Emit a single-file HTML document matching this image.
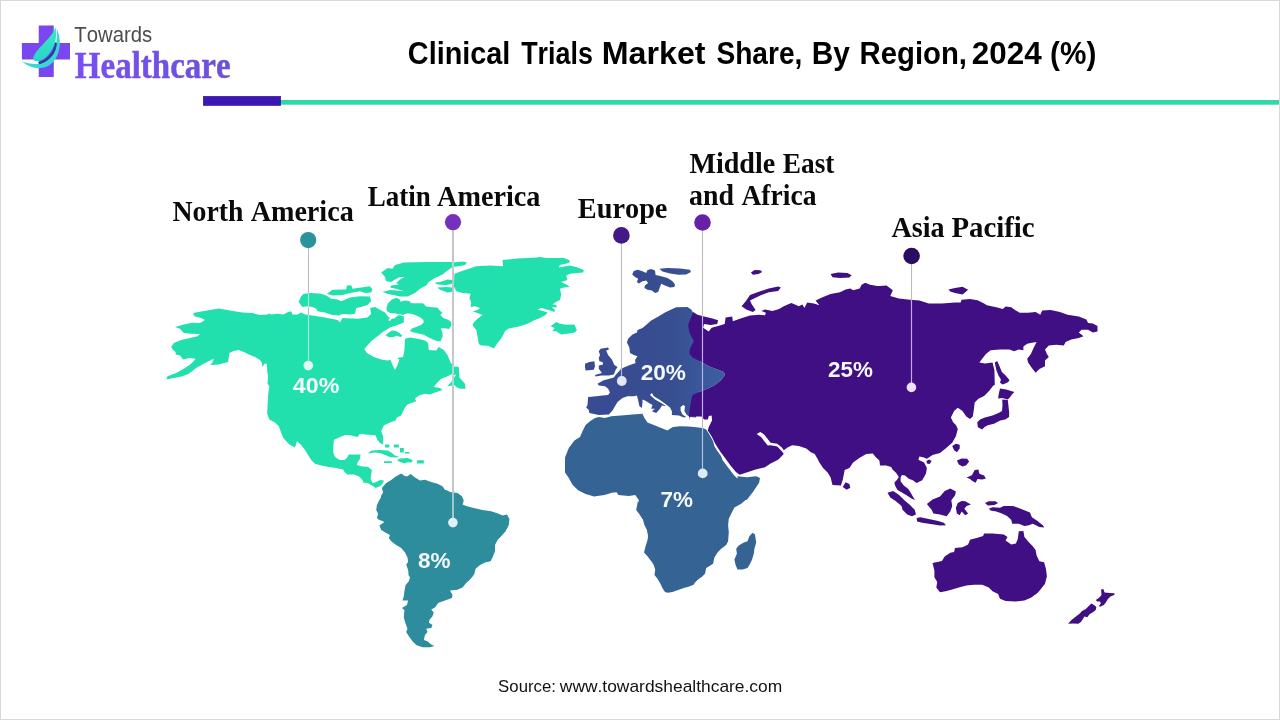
<!DOCTYPE html>
<html><head><meta charset="utf-8">
<style>
html,body{margin:0;padding:0;background:#fff;}
body{width:1280px;height:720px;position:relative;overflow:hidden;font-family:"Liberation Sans",sans-serif;}
#frame{position:absolute;left:0;top:0;width:1278px;height:718px;border:1px solid #d8d8d8;}
svg{position:absolute;left:0;top:0;}
</style></head><body>
<div id="frame"></div>
<svg style="will-change:transform" width="1280" height="720" viewBox="0 0 1280 720">
<defs>
<linearGradient id="hg" x1="0" y1="0" x2="1" y2="0"><stop offset="0" stop-color="#7a4ff2"/><stop offset="1" stop-color="#6b52d6"/></linearGradient>
<linearGradient id="eug" gradientUnits="userSpaceOnUse" x1="585" y1="0" x2="725" y2="0"><stop offset="0" stop-color="#394a93"/><stop offset="0.6" stop-color="#374e90"/><stop offset="1" stop-color="#3c5fa2"/></linearGradient>
<linearGradient id="lg" x1="0" y1="0" x2="0" y2="1"><stop offset="0" stop-color="#36ecc0"/><stop offset="1" stop-color="#2bd3cb"/></linearGradient>
</defs>
<!-- header bars -->
<rect x="280" y="100" width="999" height="4.7" fill="#30d8a9"/>
<rect x="203.3" y="96.3" width="77.4" height="9.2" fill="#3b18b6" stroke="#2d1496" stroke-width="0.6"/>
<!-- logo -->
<g id="logo">
<path d="M38.75 25.6H53.75V43.1H70V59.4H53.75V76.9H38.75V59.4H21.9V43.1H38.75Z" fill="#7946ef"/>
<g transform="translate(15,15) scale(0.125)">
<path d="M336,112 C374,205 364,305 308,372 C255,436 148,452 56,370 C138,404 215,398 268,354 C318,308 340,230 336,112Z" fill="#3ad8d4"/>
<path d="M322,215 C315,290 265,350 185,380 L197,394 C282,366 332,300 335,225Z" fill="#2b3c9e"/>
<path d="M325,95 C300,160 240,215 190,270 C160,305 138,340 148,360 C170,380 212,370 242,342 C302,290 345,200 325,95Z" fill="url(#lg)"/>
</g>
</g>
<path fill="#22e0ae" d="M193.1 313.1 202.5 311.2 218.8 308.5 230 310.6 242.5 312.5 252.5 313.1 260 315 267.5 314.4 268.8 313.5 271.2 314.4 277.5 313.8 283.8 314.4 287.5 312.2 291.2 311.2 292.5 314.4 297.5 314.4 301.2 312.5 305 314.4 308.8 315 325 317.5 337.5 320 340 322.5 342.5 318 357.5 318.8 367.5 317.5 371.2 313.8 370 308 375 307 385 312.5 388.8 317.5 393.8 318.8 398.8 315 403.8 316.2 403.8 322.5 397.5 325 390 327.5 383.8 331.2 377.5 336.2 371.2 341.2 364.5 348.8 363.8 348.1 366.9 353.1 373.8 356.9 381.2 359.4 387.5 360.6 390.6 360 392.5 365 395 370 397.5 365 399.4 359.4 396.9 358.1 403.1 356.9 404.4 350 405 338.8 410 337.5 417.5 338.8 425 340.6 428.1 343.1 428.8 350 436.2 350.6 438.8 346.9 443.8 350 447.5 355 450 361.2 452.5 365 452.5 373.8 447.5 376.2 441.2 378.8 436.2 383.8 433.8 386.9 440 388.1 442.5 390 435 392.5 430 394.4 425 393.8 418.8 395.6 415 398.8 416.2 401.2 412.5 402.5 407.5 404.4 405 407.5 402.5 412.5 401.2 415.6 396.9 417.5 395.6 420.6 390 422.5 383.8 425.6 381.2 431.2 383.1 436.2 383.1 444.4 380 443.1 377.5 440 375.6 435.6 371.2 435 365 434.4 360 433.8 357.5 436.9 351.2 435.6 345 435 338.8 437.5 333.8 440 333.1 451.2 334 455 336.2 458.1 340 460 344.4 460 346.9 458.1 348.8 454.4 360.6 454.4 360 458.8 357.5 462.5 356.9 465 361.2 466.2 368.1 466.9 371.9 470 371.2 474.4 370.6 478.8 372.5 483.1 375 482.5 380 480 383.8 480.6 383.1 483.1 380 486.2 375.6 488.1 371.9 485.6 367.5 483.1 363.1 482.5 362.5 480 358.8 476.2 353.8 474.4 347.5 474.4 345 472.5 343.1 469.4 336.2 468.1 328.8 466.9 321.2 465.6 315 463.8 311.2 460 308.1 455 305 450 301.2 445 296.9 441.2 295 447.5 290 445 286.2 441.2 283.1 437.5 280.6 431.2 278.8 426.2 275 422.5 269.4 419.4 267.2 413.8 267.5 406.2 268.1 395 269.4 386.2 267.5 383.8 268.1 376.2 266.9 370 267.2 371.2 266.9 363.8 264.4 363.8 262.5 367.2 261.9 363.1 260 360 255 356.9 250 355 245 352.5 238.8 350 233.8 351 229.4 353.1 228.1 361.9 218.8 364.4 210 365 212.5 362.5 213.8 358.8 210 360.6 203.8 363.8 196.2 368.1 188.8 373.8 182.5 376.2 173.8 378.1 166.2 379.4 167.5 376.2 176.2 373.1 185 368.1 191.2 363.8 195.6 358.8 189.4 358.1 183.1 359.4 180 355.6 175.6 354.4 175.6 351.9 173.1 350 171.2 346.9 173.8 343.1 181.2 340 190 338.1 197.5 336.2 200 334 191.2 333.8 183.8 333.1 180 328.8 175 326.9 183.8 324.4 192.5 322.8 200 323.1 205 320 201.2 318.1 194.4 316.2ZM298.5 301.9 301.2 296.2 303.8 293.8 311.2 293.1 321.2 293.8 326.2 295.6 331.2 298.8 337.5 299.4 341.2 301.2 350 297.5 360 296.2 370 296.5 371.2 301.2 367.5 305 361.2 306.9 356.2 308.1 355 313.8 350 314.4 342.5 314 338.8 315.6 332.5 315 325 312.5 317.5 311.2 316.2 308.8 312.5 306.9 307.5 306.2 302.5 306.9ZM326.9 293.8 332.5 289.8 346.2 289.4 346.9 285.6 351.2 285.2 352.5 288.8 361.2 287.5 370 286.2 372.5 289.4 371.2 292.5 365 293.1 360 291.2 350 293.1 342.5 295 332.5 295.6ZM381.2 272.5 387.5 268.1 392.5 268.8 395 265 403.8 262.5 425 261.9 452.5 261.9 452.5 262.5 462.5 261.5 466.9 262.5 465 265 458.8 266.2 452.5 266.9 447.5 270.6 442.5 274.4 435 278.1 428.8 281.9 426.2 285.6 420 288.8 415 293.1 407.5 296.5 400 296.5 387.5 293.8 382.5 291.9 390 290 403.8 291.2 396.2 288.8 390 287.5 391.2 285.6 398.8 284.4 396.2 283.1 400 279.4 404.4 276.9 400 276.9 395 279.4 391.2 281.9 386.2 281.2 385 276.9ZM435 282.8 440 281.9 447.5 279.4 452.5 280 452.5 283.8 446.2 285 440 284.8 436.2 284ZM437.5 287.5 446.2 286.9 452.5 287.5 451.9 291.9 447.5 292.5 440 289.8ZM386.4 308 388 303.3 391.9 299.4 396.6 297.8 399.7 299.4 400.5 301.7 404.4 300.5 409.1 300.9 411.4 303.3 416.9 303.3 423.1 303.3 426.2 306.4 431.7 307.2 437.2 307.6 439.5 310.3 442.3 312.7 440.3 315 443.4 318.1 448.1 319.7 451.2 322 451.6 325.2 448.9 329.1 445 328.3 440.7 328.3 442.3 332.2 442.7 336.1 440.7 341.2 437.2 341.2 432.5 339.2 427.8 336.9 423.1 334.5 418.4 333.4 413.8 332.6 409.8 331 412.2 328.3 416.9 326.7 421.6 324.4 423.9 322 423.1 319.7 420 317.3 416.1 315.4 411.4 313.8 408.3 313.4 405.2 313.8 403.6 315 395.8 313.4 390.3 313 386.8 311.1ZM385.6 335.3 388.8 332.6 391.9 330.6 395.8 331 398.9 332.6 402.4 335.7 400.5 336.9 396.6 335.7 392.7 337.3 388.8 337.3ZM454.4 273.8 465 270 476.2 266.2 490 265.6 503.1 266.2 502.5 260 517.5 258.5 536.2 257.5 540 256.9 546.2 258.1 563.8 258.1 570 260.6 568.8 263.1 560 265 558.8 267.5 570 265.6 576.2 266.9 583.8 270 583.1 272.5 577.5 273.1 570 273.8 566.2 275.6 567.5 280 561.2 281.9 566.2 284.4 570 286.9 563.8 287.5 560 288.8 561.2 294.4 560 300 555 302.5 552.5 304.4 556.2 305 556.9 307.5 551.9 306.9 555 310 554.4 311.9 548.8 310 541.2 308.1 537.5 309.4 543.8 311.2 547.5 312.5 545.6 315 540 318.1 533.8 320.6 527.5 323.8 520 326.2 513.8 327.5 508.1 328.8 505 331.2 502.5 336.2 500 340 497.5 343.1 493.8 348.4 488 345.8 481 345.5 478.8 344 477.5 336.2 476.2 330 472.5 325 473.8 322.5 477.5 318.8 482.5 315 477.5 313.1 472.5 311.2 477.5 310 480 308.1 475 306.2 470.6 306.9 471.2 302.5 469.4 298.1 470.6 293.8 462.5 293.1 456.2 291.2 453.8 286.2ZM550.6 326.2 556.2 321.9 560 323.8 566.2 324.8 574.4 324.4 576.9 330 575 332.5 568.8 333.5 561.2 334.4 556.2 331.2 552.5 331.2 554.4 328.1ZM451.9 366.2 458.8 366.9 459.4 377.5 465 383.8 465.6 388.8 460 388.8 456.2 386.9 454.4 385 452.5 385.6 447.5 386.2 451.2 381.9 455 376.2 456.2 374.4 453.1 375.6 451.9 372.5ZM368.5 452.5 371.9 450.6 380 450 387.5 450.6 391.2 452.5 395 455.6 399.4 456.9 395 457.5 390 456.9 385 455 380 453.1 373.8 452.5 368.5 453.5ZM385 444.4 389.4 444.4 389.4 447.5 385 447.5ZM393.8 444.4 398.8 444.4 398.8 447.5 393.8 447.5ZM400 448.1 403.8 448.1 403.8 452.5 400 452.5ZM405 451.9 409.4 451.9 409.4 453.5 405 453.5ZM384 461.2 391.9 461.2 391.9 463.1 384 463.1ZM417.1 460.2 423.8 460.2 423.8 463.5 417.1 463.5ZM396.9 460 400 458.5 407.5 458.1 412.5 460 411.9 462.2 406.2 462.5 404.4 463.5 400 461.9Z"/>
<path fill="#ffffff" d="M393.4 314.5 395.2 315.4 389.7 321 388 320.1Z"/>
<path fill="#2d8d9d" d="M381.9 488.1 386.2 483.1 391.2 480 395 476.9 401.2 473.5 405 476.2 407.5 476.2 410.6 474 415 477.5 420 480.6 425 479.8 431.2 481.9 437.5 483.8 442.5 486.2 445 490 446.2 490 450 491.9 457.5 493.1 461.9 496.2 463.8 500.6 462.5 504.4 466.2 506 473.8 508.1 482.5 510 491.2 511.2 498.8 513.8 502.5 515.6 506.9 514.4 509.4 518.8 508.8 525 505.6 531.2 501.2 536.2 497.5 540 495 545 495 551.2 492.5 557.5 490.6 561.2 485 562.5 480 565 475.6 568.8 474.4 573.8 471.2 578.8 473.8 575 470 579.4 466.2 583.1 462.5 587.5 457.5 589.8 450 590.6 452.5 595 451.9 598.1 445 600.6 438.1 603.1 435 607.5 431.2 609.4 433.8 612.5 432.5 616.2 429.4 620 428.8 622.5 432.5 625 431.2 628.1 426.2 628.8 427.5 631.9 425 635 423.8 640 427.5 641.2 431.2 644.4 434.4 646 430 647.2 422.5 647.2 416.2 645 412.5 641.2 408.8 636.2 406.2 631.9 407.5 628.8 405.6 623.8 403.8 617.5 404.4 610 401.9 608.1 406.9 605 408.1 600.6 402.5 600.6 403.8 596.2 404.4 591.2 405.6 585 408.8 581.2 410 577.5 408.1 573.8 408.8 576.2 408.1 570 406.2 564.4 408.1 561.9 407.5 557.5 405 552.5 401.2 548.1 396.2 545 391.2 541.2 388.8 538.1 390 535 386.2 533.1 381.2 530 379.4 525.6 384.4 521.9 380 520 376.9 518.1 378.1 513.8 376.2 510 376.9 505 379.4 500 383.1 493.8 380 520.6 377.5 518.8 378.1 513.8 376.2 510 376.9 505.6 380 501.2 381.2 495.6 383.1 492.5Z"/>
<path fill="url(#eug)" d="M632.2 274.4 633.8 271 637.5 269.8 642.5 271.2 646.2 273.1 647.5 270 651.2 269 655 270.6 655.6 275 661.2 276.2 667.5 278.1 672.5 281.2 675 284.4 674.4 286.9 670 287.5 665 285.6 661.2 283.8 660 286.9 658.1 291.9 655 292.9 651.9 290.6 647.5 289.8 644.4 288.1 645 285.6 648.1 283.1 646.2 280.6 642.5 281.2 638.8 283.5 636.9 281.9 638.1 278.8 635 276.9ZM659.4 268.8 667.5 268.1 680 268.5 690 269.8 691 271.9 686.2 274.4 678.8 274.8 670 273.5 662.5 271.5ZM598.8 351.2 600.6 348.8 608.1 347.5 609 349.4 606.2 350.6 608.1 355 611.9 359.4 614.4 365 617.5 366.9 615.6 370 613.8 374.4 608.8 375.6 601.2 375.6 595.6 376.5 595 375 601.9 373.1 598.8 368.8 598.8 365.6 603.1 364.4 602.5 361.9 599.4 361.2 598.8 358.1 600 355ZM585 363.8 589.4 361.9 594.4 361.2 595 366.2 593.8 369.8 585.6 370.6 585 366.9ZM636.9 332.5 637.5 330 642.5 328.1 647.5 323.8 651.2 320.6 657.5 316.9 665 312.5 671.2 309.4 676.2 307.2 687.5 306.9 691.2 309.4 693.1 312.5 700 317.5 700 361.2 708.8 366.2 717.5 369.4 723.8 371.9 725 375 721.2 380 715 385 707.5 388.8 698.8 391.9 696.2 395 696.2 417.5 690 416.9 686.9 415 684.4 411.2 685 406.2 683.1 405 680.6 406.9 680.6 410.6 682.5 414.4 686.2 416.9 683.8 417.5 678.8 415.6 671.9 415 671.9 411.2 670 407.5 666.2 404.4 660 400 653.8 396.2 651.9 393.1 650 395 655 399.4 661.2 403.1 666.2 406.2 661.9 405.6 660 408.8 656.2 413.1 651.9 411.2 655 408.8 651.2 408.8 652.5 405 648.1 402.5 645 400.6 642.5 399.4 642.5 402.5 641.9 408.1 639.4 406.2 638.1 400 636.9 395.6 633.8 396.2 627.5 396.2 622.5 398.1 617.5 401.9 615 406.2 612.5 410.6 608.8 414.4 598.8 415 589.4 413.1 588.8 410 586.2 407.5 587.5 405 588.1 396.9 588.8 396.9 596.2 396.2 602.5 395.6 608.1 395 610 392.5 608.1 388.8 605 386.2 598.8 385.6 597.5 383.8 603.1 380.6 609.4 378.8 613.8 377.5 615.6 375 621.2 368.8 625 366.9 630 365 635.6 363.1 635 360 637.5 356.2 633.8 355 630 353.1 629.4 347.5 626.9 342.5 628.1 338.8 632.5 334.4Z"/>
<path fill="#346394" d="M580 436.9 582.5 431.2 585.6 425 590 421.2 595 418.1 598.8 416.9 605 418.1 611.2 416.2 621.2 415.6 632.5 414.4 642.5 413.8 644.4 418.1 647.5 422.5 653.8 425 660 427.5 667.5 430.6 670 428.8 673.1 426.9 680 426.2 688.8 426.5 696.2 427.2 702.5 428.1 706.2 429.4 710 435.6 713.1 441.2 714.4 446.2 717.5 451.2 721.2 456.2 722.5 460 726.2 465 730 470 733.8 475 737.5 478.8 737.5 476.3 746.9 477.2 756.3 476.3 760 478.1 759.1 482.8 753.5 491.3 746.9 499.7 745.6 500 741.2 503.8 734.4 507.5 731.2 513.8 728.8 518.8 728.1 525 728.8 532.5 728.1 541.2 726.2 545 721.2 548.8 717.5 552.5 714.4 557.5 713.1 563.8 706.2 568.1 705 573.8 701.2 577.5 701.1 577.3 697.8 579.7 695 582.5 693.6 584.8 688.4 586.7 683.7 588.1 678.1 590 672.5 591.9 667.8 592.8 665 591.9 662.7 588.6 660.3 583.4 657.5 578.7 654.5 575 655.2 569.4 653.7 564.7 650.9 560 654.4 567.5 651.2 561.2 647.5 556.2 644 552.5 645.6 546.2 647.5 540 648.1 536.2 646.9 530 644.4 525 643.1 520 640 515 636.2 510 638.1 500 642.8 519.4 639.1 513.8 638.1 508.1 639.1 500.6 635.3 495 628.8 495.9 618.4 495 616.6 492.2 611.9 492.8 604.4 495 594.1 496.5 585.6 494.1 578.1 490.3 572.5 484.7 568.8 478.1 565 472.5 565 457.5 568.8 448.1 574.4 440.6ZM734.4 559.4 736.9 553.8 736.2 548.8 738.8 545.6 743.8 542.5 747.5 541.2 749.4 536.2 752.5 532.8 755 534.4 755.6 538.8 756.2 542.5 754.4 548.8 753.8 553.8 751.9 560 749.4 565 747.5 568.1 742.5 569.4 737.5 569.4 735.6 565Z"/>
<path fill="#3f0f83" d="M693.2 311.9 697.5 314.7 704.1 316.6 712.5 318.4 718.1 320.3 717.2 324.1 710.6 325 704.1 324.1 703.1 327.8 708.8 331.6 711.6 327.8 718.1 325.9 724.7 324.1 725.6 317.5 732.2 316.6 732.8 321.3 740.6 318.4 750 315.6 759.4 314.7 765 315.3 765.9 312.8 761.3 310.9 765 309.6 772.5 310.9 779.1 309.1 783.8 306.3 791.3 302.9 795 304.4 798.8 306.3 802.5 304.4 804.4 308.1 807.2 302.5 813.8 303.4 819.4 305.3 815.6 300.6 823.1 296.9 830.6 294.1 840 292.2 845.6 289.4 850.3 288.4 853.1 290.3 859.7 288.4 861.6 284.7 865.3 282.8 870 284.7 877.5 286 880 286 886.6 285.6 892.8 290.3 890.3 295.9 898.8 298.4 910 299.7 919.4 300.6 928.8 303.4 941.9 303.4 955 302.5 960.6 302.5 961.6 299.7 970 299.1 977.5 300.3 984.1 303.4 986.9 305.3 996.3 307.2 1002.8 309.1 1005.6 306.6 1011.3 307.2 1015 310 1019.7 312.8 1028.1 312.8 1035.6 311.9 1040.3 314.7 1042.2 310.4 1050.6 310 1060 311.9 1067.5 314.7 1078.8 316.6 1086.3 319.4 1088.1 323.1 1092.8 323.5 1097.5 325.9 1097.5 331.6 1092.8 332.5 1088.1 329.7 1081.6 329.7 1078.8 332.5 1083.5 336.3 1078.8 338.1 1071.3 339.6 1065.6 341.9 1063.8 345.6 1056.3 344.7 1048.8 345.6 1045 349.4 1046.9 354.1 1048.8 356.9 1045 360.6 1045 366.3 1039.4 369.1 1035.6 372.8 1031.9 368.1 1028.1 362.5 1027.2 358.8 1030.9 354.1 1033.8 347.5 1036.6 341.9 1031.9 342.8 1027.2 343.8 1023.4 346.6 1023.4 350.3 1018.8 349.4 1014.1 351.3 1009.4 349.4 1000 349.4 990.6 350.3 985.9 354.1 982.2 358.8 979.4 362.5 985 363.4 992.5 362.5 994.4 370 994.8 385 993.4 385.6 988.8 391.3 984.1 395.9 978.4 398.8 974.7 402.5 973.8 410 972.8 416.6 970 419 966.3 416.6 962.5 410.9 957.8 407.8 954.1 410.9 952.2 414.7 950.9 417.5 953.1 422.2 955.9 425 957.8 429.1 955.9 436.3 952.2 442.8 945.6 448.4 940 453.1 932.5 455 926.9 458.8 923.1 457.3 919.4 456.5 918.4 459.7 924.1 462.5 926.9 468.1 925.9 473.8 922.2 480.3 916.6 483.1 912.8 480.3 908.8 478.8 905 475.6 901.9 475 900.6 477.5 900.6 481.2 903.8 485.6 908.1 488.8 910.6 492.5 913.1 496.9 915 500 911.9 498.8 906.9 495.6 901.9 492.5 897.5 490 895 485.6 894.4 482.5 896.9 480 898.8 476.9 896.2 473.1 892.5 469.4 891.2 466.9 886.2 465.6 880 465.6 879.4 460.6 875.6 456.9 872.8 453.5 866.3 454.1 859.7 457.8 853.1 462.5 849.4 468.1 844.7 470 842.8 479.4 840.9 485.4 832.5 485 830.6 477.5 827.8 472.8 823.1 468.1 819.4 462.5 817.5 458.8 814.7 454.1 810.9 452.2 806.3 448.4 798.8 446 792.2 445.3 787.5 447.5 783.8 450.3 781.9 447.5 777.2 443.8 770.6 442.8 766.9 438.1 764.1 434.4 760.3 432.1 756.6 434 761.3 437.2 764.1 440.9 767.8 445.6 770.6 445.3 777.2 446.6 781.9 451.3 783.8 454.1 778.1 459.7 770.6 463.4 765 467.2 755.6 469.6 748.1 471.9 739.7 474.7 735.9 471.9 730.3 465.3 725.6 458.8 720 451.3 715.3 443.8 711.6 436.3 707.8 430.6 708.8 426.9 712.1 420.3 711.6 415.6 708.8 416 707.8 419.4 704.1 419.4 701.3 416.6 690 416.6 690 420 688.8 415 690 407.5 691.2 400 692.5 395 698.8 391.9 707.5 388.8 715 385 721.2 380 725 375 723.8 371.9 717.5 369.4 708.8 366.2 700 361.2 692.5 357.5 689.4 353.8 690 348.8 693.8 341.2 689.4 332.5 688.1 325 690 320 693.1 312.5ZM741.6 306.3 746.3 300.6 750 295 757.5 292.2 768.8 288.4 778.1 286.6 780.9 287.5 778.1 290.9 768.8 292.2 761.3 295 755.6 297.8 750 300.6 751.9 304.4 755.6 310 752.8 311.9 746.3 309.6ZM750.9 272.5 754.7 270.1 760.3 270.3 762.2 272.1 758.4 274 752.8 274.8ZM830.6 274 838.1 272.5 847.5 273.1 851.6 275.3 849.4 277.6 840 278.1 832.5 277.2ZM948.4 289.4 955 287.9 962.5 286.8 968.1 289.8 965.3 292.2 962.5 294.6 955 293.1 950.3 291.6ZM994.8 362.5 997.2 361 999.1 365.3 1001.9 371.9 1005.6 375.6 1009 379.4 1009.4 380.7 1007.5 382.4 1002.8 384.6 1000 382.8 1000.9 379.4 998.5 375.6 996.3 370ZM1000 388.5 1006.2 389.4 1014.4 391.9 1011.9 394.4 1009.4 398.1 1007.5 399.4 1002.5 398.1 998.1 398.5 998.8 393.8ZM1002.2 399.6 1007.8 400 1008.5 406.2 1009.2 412.5 1009.1 416.9 1005.2 419.4 1000.2 420.6 994 423.8 987.8 425.2 984.6 426.9 982.1 429.4 977.9 427.2 977.2 422.5 980 419.4 985 417.5 992.5 415.5 998.5 413.1 1002 411 1002.5 405ZM926.5 461 929.1 459.5 931.6 461 929.7 464 926.9 463.4ZM952.2 446 955.9 443.8 959.7 444.7 959.7 448.4 956.9 452.2 954.1 450.3ZM842.8 486.9 845.6 482.2 849.4 484.1 850.3 487.8 846.6 489.7ZM956.9 460.6 961.6 458.4 967.2 458.8 969.1 461.6 966.3 465.3 962.5 466.6 958.8 464.4ZM966.6 477.5 971.9 475.3 974.7 470 978.4 469.6 979.4 473.8 984.1 475.6 985.9 478.4 982.2 479.4 977.5 479 975.6 482.8 972.8 481.3 970 479ZM887.5 492.8 893.1 490.9 898.8 494.7 904.4 500.3 910 505 914.7 509.7 916 514.4 911.9 516.3 907.2 514.4 902.5 509.7 901.6 505.9 895.9 501.3 890.3 497.5ZM926.9 504.1 932.5 499.4 940 496.6 944.7 490.9 950.3 488.5 955.9 491.5 955 495.6 951.3 500.3 952.2 505.9 950.3 511.6 946.6 516.3 940 514.4 933.4 513.4 931.6 509.7ZM955.9 507.8 957.8 503.1 961.6 500.9 965.3 501.3 970.9 504.6 966.6 505.9 964.4 508.8 968.1 513.4 965.3 515.3 961.6 511.6 959.7 515.3 956.9 513.4ZM916.6 518.1 920.3 517.2 928.8 519.1 938.1 520.9 943.8 522.8 946 525.3 940 525.6 930.6 524.1 922.2 522.8 917.1 521.5ZM985 503.1 988.8 501.3 995.3 501.3 998.1 503.1 994.4 505 987.8 505.4ZM988.8 508.8 992.5 507.3 1000 507.8 1003.8 505.9 1013.1 505.9 1020.6 508.8 1030 512.5 1031.9 517.2 1037.5 520.9 1043.1 525.6 1044.1 527.5 1039.4 527.1 1032.8 523.8 1028.1 525.6 1024.4 526 1018.8 523.8 1012.2 523.8 1011.3 520 1007.5 516.3 1001.9 513.4 996.3 511.6 990.6 510.6ZM932.5 563.1 941.9 560.9 944.7 556.6 950.3 552.8 954.1 551.9 955 548.1 962.5 547.2 968.1 544.4 970 539.7 977.5 537.8 983.1 535.9 984.1 533.5 992.5 533.5 1003.8 534.6 1007.5 536.9 1005.6 540.6 1011.3 544.4 1015.9 543.4 1017.8 539.1 1018.8 531.3 1023.4 530.9 1024.4 536.9 1029.1 542.5 1032.8 546.3 1035.6 550 1036.6 555.6 1039.4 561.3 1044.1 562.2 1045.9 568.8 1046.9 576.3 1045 583.8 1041.3 588.4 1037.5 593.1 1030.9 597.8 1024.4 600.6 1015 601.6 1005.6 601 1000 598.8 998.1 594.1 992.5 591.3 988.8 587.5 982.2 584.7 973.8 584.7 966.3 585.6 958.8 587.5 952.2 589.4 945.6 591.3 940 592.2 936.3 587.5 937.2 581.9 934.4 577.2 934.4 570.6ZM1095.9 600 1099.3 597.4 1101.5 595.1 1101.1 589.5 1103.4 589.1 1104.5 592.5 1109.8 592.9 1114.3 593.3 1114.6 594.8 1110.5 596.6 1107.9 598.9 1106 602.3 1103.8 604.9 1100 606.8 1098.9 606 1100.8 603.4 1100 601.5 1097 601.5ZM1068.1 623.8 1071.5 620 1075.3 617 1079.8 613.5 1082 610.9 1085.8 609 1088.8 606 1091.4 603.4 1094 604.9 1096.3 607.1 1095.9 609.8 1093.3 612 1089.5 614.3 1087.3 617.3 1084.3 616.5 1083.1 618.8 1080.9 621.9 1078.3 623.8 1073 623.4 1068.1 623.8Z"/>
<!-- leader lines -->
<g stroke="#bcbcbc" stroke-width="1.1">
<line x1="308.5" y1="240" x2="308.5" y2="365"/>
<line x1="453" y1="222" x2="453" y2="522" stroke-width="1.5" stroke="#b4b4b4"/>
<line x1="621.5" y1="236" x2="621.5" y2="381"/>
<line x1="702.5" y1="222" x2="702.5" y2="473"/>
<line x1="911.5" y1="256" x2="911.5" y2="387"/>
</g>
<g id="tint">
<line x1="308.5" y1="293" x2="308.5" y2="307" stroke="#a8ecd9" stroke-width="1.1"/>
<line x1="308.5" y1="315" x2="308.5" y2="361" stroke="#a8ecd9" stroke-width="1.1"/>
<line x1="453" y1="262" x2="453" y2="267" stroke="#a8ecd9" stroke-width="1.5"/>
<line x1="453" y1="366" x2="453" y2="376" stroke="#a8ecd9" stroke-width="1.5"/>
<line x1="453" y1="378" x2="453" y2="386" stroke="#a8ecd9" stroke-width="1.5"/>
<line x1="453" y1="491" x2="453" y2="518" stroke="#a6d0d9" stroke-width="1.5"/>
<line x1="621.5" y1="368" x2="621.5" y2="377" stroke="#adb6e2" stroke-width="1.1"/>
<line x1="702.5" y1="316" x2="702.5" y2="363" stroke="#c6a8f0" stroke-width="1.1"/>
<line x1="702.5" y1="363" x2="702.5" y2="390" stroke="#adb6e2" stroke-width="1.1"/>
<line x1="702.5" y1="390" x2="702.5" y2="418" stroke="#c6a8f0" stroke-width="1.1"/>
<line x1="702.5" y1="428" x2="702.5" y2="469" stroke="#abc4e8" stroke-width="1.1"/>
<line x1="911.5" y1="299" x2="911.5" y2="383" stroke="#c6a8f0" stroke-width="1.1"/>
</g>
<g fill="#eef3fa">
<circle cx="308.3" cy="365.6" r="4.8" fill="#e2f8f1"/>
<circle cx="452.9" cy="522.6" r="4.8" fill="#e0f0f4"/>
<circle cx="621.8" cy="381" r="4.9" fill="#e4e8f7"/>
<circle cx="702.7" cy="473.4" r="4.9" fill="#e0eaf6"/>
<circle cx="911.4" cy="387.4" r="4.8" fill="#ece2f8"/>
</g>
<circle cx="308.2" cy="240.1" r="8.1" fill="#2c929b"/>
<circle cx="453" cy="222.2" r="8.1" fill="#7530be"/>
<circle cx="621.4" cy="235.4" r="8.3" fill="#421985"/>
<circle cx="702.5" cy="222.5" r="8.3" fill="#6621a7"/>
<circle cx="911.6" cy="256" r="8.3" fill="#2a0d62"/>
<g id="texts" style="font-kerning:none">
<text x="74.34" y="41.50" font-family="Liberation Sans" font-weight="normal" font-size="22.30" textLength="77.89" lengthAdjust="spacingAndGlyphs" fill="#4d4d4d">Towards</text>
<text x="74.84" y="78.20" font-family="Liberation Serif" font-weight="bold" font-size="38.80" textLength="155.82" lengthAdjust="spacingAndGlyphs" fill="url(#hg)" stroke="url(#hg)" stroke-width="0.5">Healthcare</text>
<text x="407.82" y="63.80" font-family="Liberation Sans" font-weight="bold" font-size="32.20" textLength="102.52" lengthAdjust="spacingAndGlyphs" fill="#000">Clinical</text>
<text x="521.20" y="63.80" font-family="Liberation Sans" font-weight="bold" font-size="32.20" textLength="71.70" lengthAdjust="spacingAndGlyphs" fill="#000">Trials</text>
<text x="601.75" y="63.80" font-family="Liberation Sans" font-weight="bold" font-size="32.20" textLength="103.75" lengthAdjust="spacingAndGlyphs" fill="#000">Market</text>
<text x="716.39" y="63.80" font-family="Liberation Sans" font-weight="bold" font-size="32.20" textLength="85.99" lengthAdjust="spacingAndGlyphs" fill="#000">Share,</text>
<text x="811.70" y="63.80" font-family="Liberation Sans" font-weight="bold" font-size="32.20" textLength="38.16" lengthAdjust="spacingAndGlyphs" fill="#000">By</text>
<text x="859.54" y="63.80" font-family="Liberation Sans" font-weight="bold" font-size="32.20" textLength="107.42" lengthAdjust="spacingAndGlyphs" fill="#000">Region,</text>
<text x="971.81" y="63.80" font-family="Liberation Sans" font-weight="bold" font-size="32.20" textLength="69.86" lengthAdjust="spacingAndGlyphs" fill="#000">2024</text>
<text x="1050.12" y="63.80" font-family="Liberation Sans" font-weight="bold" font-size="32.20" textLength="46.26" lengthAdjust="spacingAndGlyphs" fill="#000">(%)</text>
<text x="172.57" y="220.80" font-family="Liberation Serif" font-weight="bold" font-size="28.90" textLength="70.95" lengthAdjust="spacingAndGlyphs" fill="#0a0a0a">North</text>
<text x="250.63" y="220.80" font-family="Liberation Serif" font-weight="bold" font-size="28.90" textLength="103.10" lengthAdjust="spacingAndGlyphs" fill="#0a0a0a">America</text>
<text x="367.64" y="205.90" font-family="Liberation Serif" font-weight="bold" font-size="28.90" textLength="63.07" lengthAdjust="spacingAndGlyphs" fill="#0a0a0a">Latin</text>
<text x="437.02" y="205.90" font-family="Liberation Serif" font-weight="bold" font-size="28.90" textLength="103.40" lengthAdjust="spacingAndGlyphs" fill="#0a0a0a">America</text>
<text x="577.82" y="217.70" font-family="Liberation Serif" font-weight="bold" font-size="28.90" textLength="89.62" lengthAdjust="spacingAndGlyphs" fill="#0a0a0a">Europe</text>
<text x="689.42" y="172.80" font-family="Liberation Serif" font-weight="bold" font-size="28.90" textLength="85.81" lengthAdjust="spacingAndGlyphs" fill="#0a0a0a">Middle</text>
<text x="782.83" y="172.80" font-family="Liberation Serif" font-weight="bold" font-size="28.90" textLength="51.59" lengthAdjust="spacingAndGlyphs" fill="#0a0a0a">East</text>
<text x="689.00" y="204.50" font-family="Liberation Serif" font-weight="bold" font-size="28.90" textLength="44.91" lengthAdjust="spacingAndGlyphs" fill="#0a0a0a">and</text>
<text x="741.43" y="204.50" font-family="Liberation Serif" font-weight="bold" font-size="28.90" textLength="75.09" lengthAdjust="spacingAndGlyphs" fill="#0a0a0a">Africa</text>
<text x="891.43" y="237.00" font-family="Liberation Serif" font-weight="bold" font-size="28.90" textLength="53.10" lengthAdjust="spacingAndGlyphs" fill="#0a0a0a">Asia</text>
<text x="951.41" y="237.00" font-family="Liberation Serif" font-weight="bold" font-size="28.90" textLength="83.21" lengthAdjust="spacingAndGlyphs" fill="#0a0a0a">Pacific</text>
<text x="292.75" y="392.75" font-family="Liberation Sans" font-weight="bold" font-size="21.50" textLength="46.62" lengthAdjust="spacingAndGlyphs" fill="#f4f8fb">40%</text>
<text x="418.04" y="567.50" font-family="Liberation Sans" font-weight="bold" font-size="21.50" textLength="32.56" lengthAdjust="spacingAndGlyphs" fill="#f4f8fb">8%</text>
<text x="640.72" y="379.75" font-family="Liberation Sans" font-weight="bold" font-size="21.50" textLength="45.28" lengthAdjust="spacingAndGlyphs" fill="#f4f8fb">20%</text>
<text x="660.64" y="506.60" font-family="Liberation Sans" font-weight="bold" font-size="21.50" textLength="32.46" lengthAdjust="spacingAndGlyphs" fill="#f4f8fb">7%</text>
<text x="827.97" y="376.75" font-family="Liberation Sans" font-weight="bold" font-size="21.50" textLength="44.87" lengthAdjust="spacingAndGlyphs" fill="#f4f8fb">25%</text>
<text x="498.14" y="691.50" font-family="Liberation Sans" font-weight="normal" font-size="16.40" textLength="57.79" lengthAdjust="spacingAndGlyphs" fill="#111">Source:</text>
<text x="559.83" y="691.50" font-family="Liberation Sans" font-weight="normal" font-size="16.40" textLength="222.42" lengthAdjust="spacingAndGlyphs" fill="#111">www.towardshealthcare.com</text>
</g>
</svg>




</body></html>
